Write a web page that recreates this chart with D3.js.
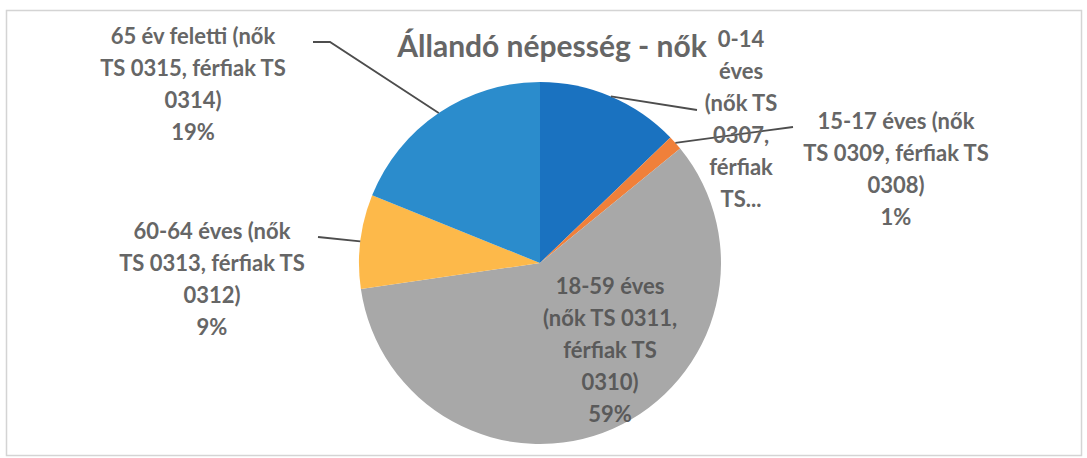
<!DOCTYPE html>
<html>
<head>
<meta charset="utf-8">
<script src="https://cdn.jsdelivr.net/npm/d3@7"></script>
<style>
  body { margin: 0; background: #fff; }
  text { font-family: Lato, "Open Sans", sans-serif; font-weight: bold; }
</style>
</head>
<body>
<div id="chart"></div>
<script>
// data
var categories = ["0-14 éves", "15-17 éves", "18-59 éves", "60-64 éves", "65 év feletti"];
var values = [12.8, 1.3, 58.6, 8.4, 18.9];
var labelLines = [
  ["0-14", "éves", "(nők TS", "0307,", "férfiak", "TS..."],
  ["15-17 éves (nők", "TS 0309, férfiak TS", "0308)", "1%"],
  ["18-59 éves", "(nők TS 0311,", "férfiak TS", "0310)", "59%"],
  ["60-64 éves (nők", "TS 0313, férfiak TS", "0312)", "9%"],
  ["65 év feletti (nők", "TS 0315, férfiak TS", "0314)", "19%"]
];
var title = "Állandó népesség - nők";

var colors = ["#1a72c0", "#f0803a", "#a8a8a8", "#fdb94a", "#2b8ccc"];

// layout (label placement, leader line ends)
var svgWidth = 1087;
var svgHeight = 458;
var cx = 540, cy = 263, radius = 181;
var lineH = 32;
var labelPos = [
  { x: 741, y: 47, end: [[697, 110]] },
  { x: 896, y: 129, end: [[793, 127]] },
  { x: 610, y: 294, end: null },
  { x: 212, y: 239, end: [[318, 237]] },
  { x: 193, y: 44, end: [[330, 42], [313, 42]] }
];

var svg = d3.select("#chart")
  .append("svg")
  .attr("width", svgWidth)
  .attr("height", svgHeight);

// chart border
svg.append("rect")
  .attr("x", 6.5)
  .attr("y", 10.5)
  .attr("width", 1075)
  .attr("height", 445)
  .attr("fill", "none")
  .attr("stroke", "#d4d4d4")
  .attr("stroke-width", 1.5);

var pie = d3.pie().sort(null).value(function (d) { return d; });
var arcs = pie(values);
var arc = d3.arc().innerRadius(0).outerRadius(radius);

var chart = svg.append("g")
  .attr("transform", "translate(" + cx + "," + cy + ")");

chart.selectAll("path")
  .data(arcs)
  .enter()
  .append("path")
  .attr("d", arc)
  .attr("fill", function (d, i) { return colors[i]; });

// leader lines
arcs.forEach(function (d, i) {
  var p = labelPos[i];
  if (!p.end) return;
  var mid = (d.startAngle + d.endAngle) / 2;
  var pts = [[cx + radius * Math.sin(mid), cy - radius * Math.cos(mid)]].concat(p.end);
  svg.append("path")
    .attr("d", d3.line()(pts))
    .attr("fill", "none")
    .attr("stroke", "#4d4d4d")
    .attr("stroke-width", 1.8);
});

// labels
labelLines.forEach(function (lines, i) {
  var p = labelPos[i];
  var t = svg.append("text")
    .attr("text-anchor", "middle")
    .style("font-size", "22px")
    .attr("fill", i === 2 ? "#5a5a5a" : "#666");
  lines.forEach(function (l, k) {
    t.append("tspan")
      .attr("x", p.x)
      .attr("y", p.y + k * lineH)
      .text(l);
  });
});

svg.append("text")
  .attr("x", 552)
  .attr("y", 57)
  .attr("text-anchor", "middle")
  .style("font-size", "30px")
  .attr("fill", "#666")
  .text(title);
</script>
</body>
</html>
